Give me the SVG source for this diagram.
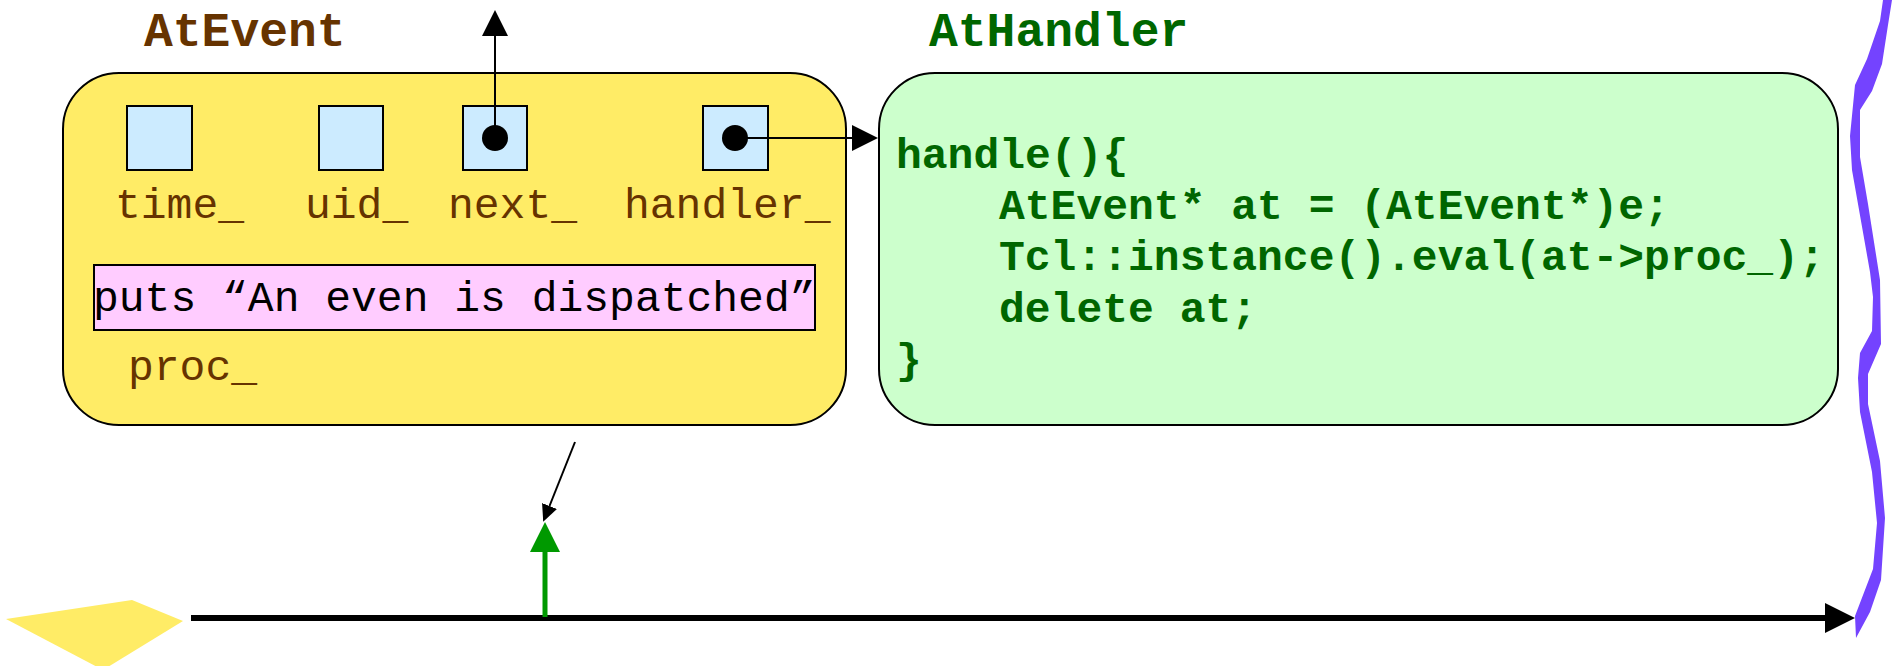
<svg xmlns="http://www.w3.org/2000/svg" width="1894" height="666" viewBox="0 0 1894 666">
  <defs>
    <style>
      .box { stroke: #000; stroke-width: 2; }
      .slot { fill: #CCEBFF; stroke: #000; stroke-width: 2; }
      .title { font-family: "Liberation Mono", "Courier New", monospace; font-weight: bold; font-size: 48px; }
      .field { font-family: "Liberation Mono", "Courier New", monospace; font-size: 43px; fill: #663300; }
      .code { font-family: "Liberation Mono", "Courier New", monospace; font-weight: bold; font-size: 43px; fill: #006600; }
      .link { stroke: #000; stroke-width: 2; fill: none; }
    </style>
    <marker id="head" markerUnits="userSpaceOnUse" markerWidth="26" markerHeight="26" refX="0" refY="13" orient="auto">
      <path d="M0,0 L26,13 L0,26 Z" fill="#000"/>
    </marker>
    <marker id="headSmall" markerUnits="userSpaceOnUse" markerWidth="18" markerHeight="16" refX="0" refY="8" orient="auto">
      <path d="M0,0 L17,8 L0,16 Z" fill="#000"/>
    </marker>
    <marker id="headAxis" markerUnits="userSpaceOnUse" markerWidth="30" markerHeight="30" refX="0" refY="15" orient="auto">
      <path d="M0,0 L30,15 L0,30 Z" fill="#000"/>
    </marker>
    <marker id="headGreen" markerUnits="userSpaceOnUse" markerWidth="30" markerHeight="30" refX="0" refY="15" orient="auto">
      <path d="M0,0 L30,15 L0,30 Z" fill="#009900"/>
    </marker>
  </defs>

  <!-- AtEvent object -->
  <g id="at-event">
    <text class="title" x="144" y="46" fill="#663300">AtEvent</text>
    <rect class="box" x="63" y="73" width="783" height="352" rx="56" ry="56" fill="#FFEC66"/>
    <rect class="slot" x="127" y="106" width="65" height="64"/>
    <rect class="slot" x="319" y="106" width="64" height="64"/>
    <rect class="slot" x="463" y="106" width="64" height="64"/>
    <rect class="slot" x="703" y="106" width="65" height="64"/>
    <text class="field" x="115" y="218">time_</text>
    <text class="field" x="305" y="218">uid_</text>
    <text class="field" x="448" y="218">next_</text>
    <text class="field" x="624" y="218">handler_</text>
    <rect class="box" x="94" y="265" width="721" height="65" fill="#FFCCFF"/>
    <text class="field" x="93" y="311" fill="#000" style="fill:#000">puts “An even is dispatched”</text>
    <text class="field" x="128" y="380">proc_</text>
  </g>

  <!-- AtHandler object -->
  <g id="at-handler">
    <text class="title" x="929" y="46" fill="#006600">AtHandler</text>
    <rect class="box" x="879" y="73" width="959" height="352" rx="56" ry="56" fill="#CCFFCC"/>
    <text class="code" x="896" y="168">handle(){</text>
    <text class="code" x="999" y="219">AtEvent* at = (AtEvent*)e;</text>
    <text class="code" x="999" y="270">Tcl::instance().eval(at-&gt;proc_);</text>
    <text class="code" x="999" y="322">delete at;</text>
    <text class="code" x="896" y="373">}</text>
  </g>

  <!-- scheduler time line -->
  <g id="timeline">
    <polygon points="6,619 132,600 183,621 103,670" fill="#FFEC66"/>
    <path d="M1883,0 L1880,21 L1867,59 L1855,85 L1850,136 L1852,170 L1870,272 L1873,297 L1872,331 L1860,353 L1858,378 L1860,412 L1872,472 L1877,523 L1873,569 L1855,616 L1856,638 L1870,612 L1881,580 L1885,518 L1880,461 L1868,404 L1868,374 L1881,344 L1880,280 L1868,204 L1860,157 L1860,110 L1872,91 L1882,64 L1888,25 L1892,0 Z" fill="#7443FF"/>
  </g>

  <!-- connectors -->
  <g id="connectors">
    <circle cx="495" cy="138" r="13" fill="#000"/>
    <circle cx="735" cy="138" r="13" fill="#000"/>
    <line class="link" x1="495" y1="138" x2="495" y2="36" marker-end="url(#head)"/>
    <line class="link" x1="735" y1="138" x2="852" y2="138" marker-end="url(#head)"/>
    <line class="link" x1="575" y1="442" x2="549.5" y2="506" marker-end="url(#headSmall)"/>
    <line stroke="#000" stroke-width="6" x1="191" y1="618" x2="1825" y2="618" marker-end="url(#headAxis)"/>
    <line stroke="#009900" stroke-width="5" x1="545" y1="617" x2="545" y2="552" marker-end="url(#headGreen)"/>
  </g>
</svg>
